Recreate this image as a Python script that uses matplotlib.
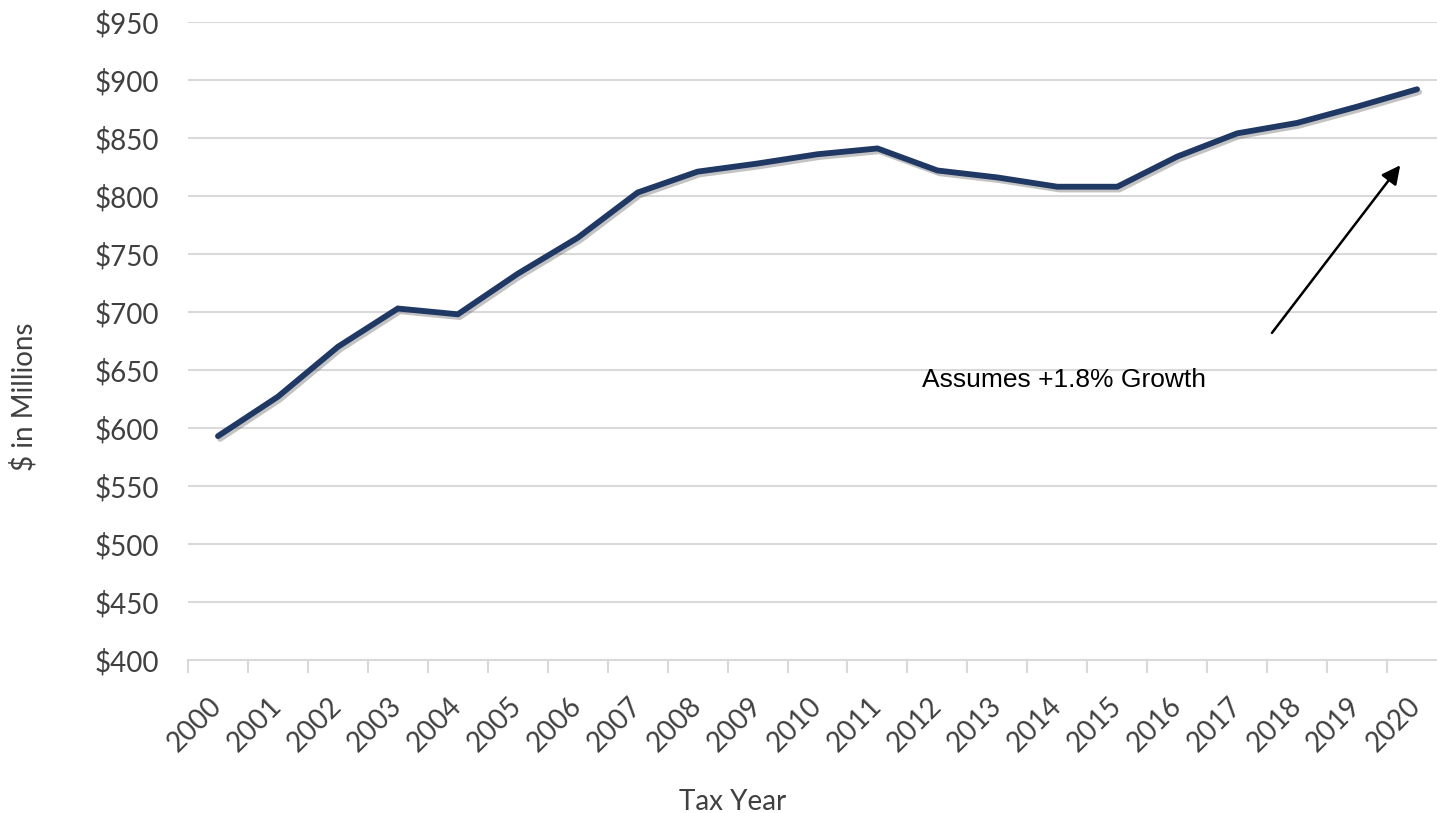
import numpy as np
import matplotlib
matplotlib.use("Agg")
import matplotlib.pyplot as plt
import matplotlib.patheffects as pe

# tax years and revenue ($ millions)
years = [str(y) for y in range(2000, 2021)]
revenue = [593, 627, 670, 703, 698, 733, 764, 803, 821, 828, 836,
           841, 822, 816, 808, 808, 834, 854, 863, 877, 892]
y_ticks = list(range(400, 1000, 50))

note_text = "Assumes +1.8% Growth"

W, H = 1437, 813
fig = plt.figure(figsize=(W / 100, H / 100), dpi=100)
# axis runs from x=188 px to 1447 px (past the right edge), y from 660 to 22 px
ax = fig.add_axes([188 / W, (H - 660) / H, (1447 - 188) / W, (660 - 22) / H])

x = np.arange(len(years))
ax.plot(x, revenue, color="#1f3864", lw=4.2, solid_capstyle="round",
        solid_joinstyle="miter", zorder=3,
        path_effects=[pe.SimpleLineShadow(offset=(1.5, -2), alpha=0.35, shadow_color="#555555"),
                      pe.Normal()])

ax.set_xlim(-0.5, len(years) - 0.5)
ax.set_ylim(400, 950)
ax.set_yticks(y_ticks)
ax.set_yticklabels([f"${v}" for v in y_ticks])
ax.grid(axis="y", color="#d9d9d9", lw=1.5)
ax.set_axisbelow(True)

for s in ["left", "right", "top"]:
    ax.spines[s].set_visible(False)
ax.spines["bottom"].set_color("#d9d9d9")
ax.spines["bottom"].set_linewidth(1.5)

font = "Lato"
tick_color = "#404040"

ax.set_xticks(x)
ax.set_xticklabels(years, rotation=45, ha="right", va="center",
                   rotation_mode="anchor", family=font, fontsize=20, color=tick_color)
ax.set_xticks(np.arange(-0.5, len(years), 1), minor=True)
ax.tick_params(axis="x", which="major", length=0, pad=30)
ax.tick_params(axis="x", which="minor", length=9, width=1.5, color="#d9d9d9")
ax.tick_params(axis="y", length=0, pad=21, labelsize=20, labelcolor=tick_color)
for lab in ax.get_yticklabels():
    lab.set_family(font)

# annotation arrow and note
ax.annotate("", xy=(19.72, 826.5), xytext=(17.58, 682),
            arrowprops=dict(arrowstyle="-|>", color="black", lw=1.8,
                            mutation_scale=28, shrinkA=0, shrinkB=0))
ax.text(11.74, 635, note_text, family="Liberation Sans", fontsize=19,
        color="black", ha="left", va="baseline")

fig.text(24 / W, 1 - 397 / H, "$ in Millions", rotation=90, ha="center", va="center",
         family=font, fontsize=20, color=tick_color)
fig.text(733 / W, 3 / H, "Tax Year", ha="center", va="baseline",
         family=font, fontsize=20, color=tick_color)

fig.savefig("out.png", dpi=100)
